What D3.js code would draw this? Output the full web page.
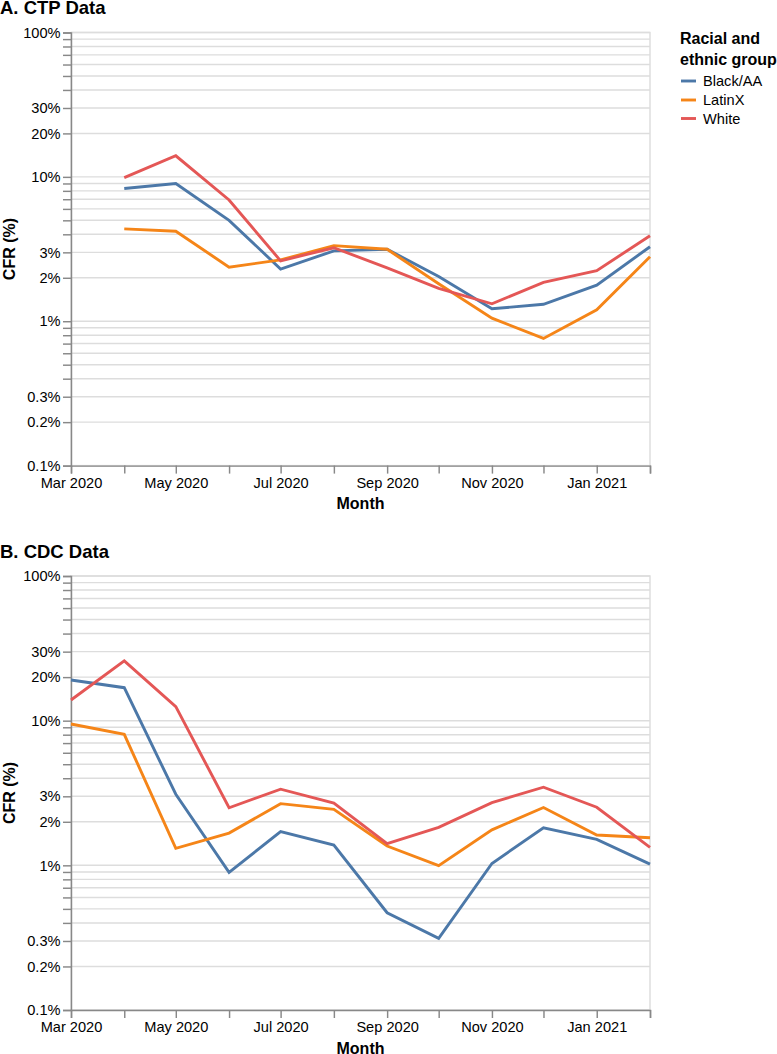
<!DOCTYPE html>
<html><head><meta charset="utf-8">
<script src="https://cdn.jsdelivr.net/npm/d3@7"></script>
<style>
html,body{margin:0;padding:0;background:#fff;}
svg{display:block;font-family:"Liberation Sans",Arial,Helvetica,sans-serif;}
</style></head>
<body>
<svg id="chart" width="777" height="1054"></svg>
<script>
// ---------- data ----------
const months = ["2020-03","2020-04","2020-05","2020-06","2020-07","2020-08","2020-09","2020-10","2020-11","2020-12","2021-01","2021-02"];
const ctpMonths = months.slice(1);
const cdcMonths = months;

const groups = ["Black/AA","LatinX","White"];
const groupColors = ["#4c78a8","#f58518","#e45756"];

// CFR (%) — Panel A, CTP data (Apr 2020 – Feb 2021)
const ctpBlack  = [8.3, 9.0, 5.0, 2.3, 3.07, 3.15, 2.04, 1.22, 1.31, 1.78, 3.28];
const ctpLatinX = [4.36, 4.2, 2.37, 2.66, 3.34, 3.15, 1.82, 1.05, 0.76, 1.2, 2.8];
const ctpWhite  = [9.87, 14.0, 6.92, 2.62, 3.23, 2.34, 1.69, 1.32, 1.86, 2.24, 3.91];

// CFR (%) — Panel B, CDC data (Mar 2020 – Feb 2021)
const cdcBlack  = [19.1, 16.9, 3.1, 0.895, 1.71, 1.38, 0.47, 0.313, 1.03, 1.82, 1.51, 1.02];
const cdcLatinX = [9.49, 8.05, 1.31, 1.67, 2.67, 2.44, 1.36, 0.995, 1.76, 2.51, 1.62, 1.55];
const cdcWhite  = [13.9, 25.9, 12.5, 2.5, 3.36, 2.69, 1.41, 1.83, 2.71, 3.47, 2.52, 1.33];

// axis ticks
const yTicks = [0.1,0.2,0.3,0.4,0.5,0.6,0.7,0.8,0.9,1,2,3,4,5,6,7,8,9,10,20,30,40,50,60,70,80,90,100];
const yTickLabels = [0.1,0.2,0.3,1,2,3,10,20,30,100];
const xDomain = ["2020-03-01","2021-02-01"];

const panels = [
  {title:"A. CTP Data", months: ctpMonths, series:[ctpBlack, ctpLatinX, ctpWhite], top:32.5, bottom:465.6, titleY:13.5},
  {title:"B. CDC Data", months: cdcMonths, series:[cdcBlack, cdcLatinX, cdcWhite], top:576, bottom:1010, titleY:558}
];

// ---------- drawing ----------
const svg = d3.select("#chart");
const parse = d3.timeParse("%Y-%m");
const left = 71, right = 650;
const x = d3.scaleUtc().domain(xDomain.map(d=>new Date(d+"T00:00:00Z"))).range([left,right]);
const parseUTC = s => new Date(s+"-01T00:00:00Z");
const fmtPct = v => (v<1 ? d3.format(".1f")(v) : d3.format("d")(v)) + "%";
const monthFmt = d3.utcFormat("%b %Y");

panels.forEach(p => {
  const y = d3.scaleLog().domain([0.1,100]).range([p.bottom,p.top]);
  const g = svg.append("g");

  // title
  g.append("text").attr("x",0).attr("y",p.titleY)
    .attr("font-size",18.5).attr("font-weight","bold").attr("fill","#000").text(p.title);

  // grid
  g.append("g").selectAll("line").data(yTicks).join("line")
    .attr("x1",left).attr("x2",right)
    .attr("y1",d=>y(d)).attr("y2",d=>y(d))
    .attr("stroke","#ddd").attr("stroke-width",1.45);

  // view border
  g.append("rect").attr("x",left).attr("y",p.top).attr("width",right-left).attr("height",p.bottom-p.top)
    .attr("fill","none").attr("stroke","#ddd").attr("stroke-width",1.45);

  // y axis
  const yAxis = d3.axisLeft(y).tickValues(yTicks).tickSize(8).tickPadding(2.5)
    .tickFormat(d => yTickLabels.includes(d) ? fmtPct(d) : "");
  const ya = g.append("g").attr("transform",`translate(${left},0)`).call(yAxis);
  ya.select(".domain").attr("stroke","#888").attr("stroke-width",1.45);
  ya.selectAll(".tick line").attr("stroke","#888").attr("stroke-width",1.45);
  ya.selectAll(".tick text").attr("font-size",14.6).attr("fill","#000")
    .attr("font-family","'Liberation Sans',Arial,sans-serif");

  // x axis
  const xTicks = months.map(parseUTC);
  const xAxis = d3.axisBottom(x).tickValues(xTicks).tickSize(8).tickPadding(4)
    .tickFormat((d,i) => i%2===0 ? monthFmt(d) : "");
  const xa = g.append("g").attr("transform",`translate(0,${p.bottom})`).call(xAxis);
  xa.select(".domain").attr("stroke","#888").attr("stroke-width",1.45);
  xa.selectAll(".tick line").attr("stroke","#888").attr("stroke-width",1.45);
  xa.selectAll(".tick text").attr("font-size",14.6).attr("fill","#000")
    .attr("font-family","'Liberation Sans',Arial,sans-serif");

  // axis titles
  g.append("text").attr("x",(left+right)/2).attr("y",p.bottom+43.5)
    .attr("text-anchor","middle").attr("font-size",16).attr("font-weight","bold").text("Month");
  g.append("text").attr("transform",`translate(15,${(p.top+p.bottom)/2}) rotate(-90)`)
    .attr("text-anchor","middle").attr("font-size",16).attr("font-weight","bold").text("CFR (%)");

  // lines
  const line = d3.line().x(d=>x(d[0])).y(d=>y(d[1]));
  p.series.forEach((vals,i) => {
    const pts = vals.map((v,j)=>[parseUTC(p.months[j]), v]);
    g.append("path").datum(pts).attr("d",line)
      .attr("fill","none").attr("stroke",groupColors[i]).attr("stroke-width",2.9)
      .attr("stroke-linejoin","miter").attr("stroke-linecap","butt");
  });
});

// legend
const lg = svg.append("g");
lg.append("text").attr("x",680).attr("y",44.3).attr("font-size",16).attr("font-weight","bold").text("Racial and");
lg.append("text").attr("x",680).attr("y",64.5).attr("font-size",16).attr("font-weight","bold").text("ethnic group");
const legY = [81,100,118.5];
groups.forEach((gname,i)=>{
  lg.append("line").attr("x1",681).attr("x2",696).attr("y1",legY[i]).attr("y2",legY[i])
    .attr("stroke",groupColors[i]).attr("stroke-width",2.9);
  lg.append("text").attr("x",703).attr("y",legY[i]).attr("dy","0.35em").attr("font-size",14.6).text(gname);
});
</script>
</body></html>
